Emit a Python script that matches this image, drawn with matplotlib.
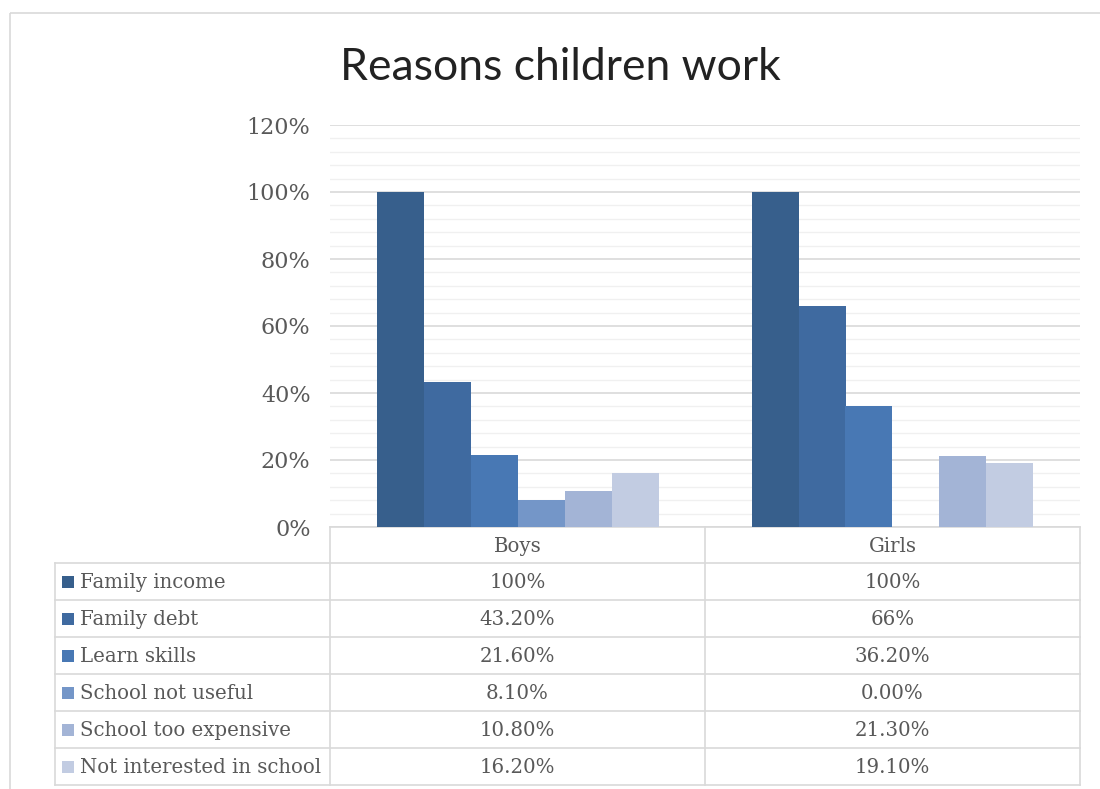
import matplotlib
matplotlib.use("Agg")
import numpy as np
import matplotlib.pyplot as plt
from matplotlib.ticker import MultipleLocator, FuncFormatter
from matplotlib.patches import Rectangle

# Chart data
categories = ["Boys", "Girls"]
reasons = ["Family income", "Family debt", "Learn skills",
           "School not useful", "School too expensive", "Not interested in school"]
boys = ["100%", "43.20%", "21.60%", "8.10%", "10.80%", "16.20%"]
girls = ["100%", "66%", "36.20%", "0.00%", "21.30%", "19.10%"]
colors = ["#375F8C", "#3F6AA0", "#4878B4", "#7496C8", "#A3B4D6", "#C2CCE2"]


def pct(s):
    return float(s.rstrip("%"))


W, H = 1100, 789
fig = plt.figure(figsize=(W / 100, H / 100), dpi=100)
fig.patch.set_facecolor("white")

serif = ["DejaVu Serif"]
txt_color = "#595959"
grid_major = "#D9D9D9"
grid_minor = "#F0F0F0"
fs = 14.2

# Plot area (pixel layout)
ax_l, ax_r, ax_t, ax_b = 330, 1080, 125, 527
ax = fig.add_axes([ax_l / W, 1 - ax_b / H, (ax_r - ax_l) / W, (ax_b - ax_t) / H])

n = len(reasons)
bw = 47 / 375
xc = np.arange(len(categories))
for i, r in enumerate(reasons):
    vals = [pct(boys[i]), pct(girls[i])]
    ax.bar(xc + (i - (n - 1) / 2) * bw, vals, width=bw, color=colors[i],
           zorder=3, linewidth=0)

ax.set_xlim(-0.5, len(categories) - 0.5)
ax.set_ylim(0, 120)
ax.yaxis.set_major_locator(MultipleLocator(20))
ax.yaxis.set_minor_locator(MultipleLocator(4))
ax.yaxis.set_major_formatter(FuncFormatter(lambda v, p: f"{v:.0f}%"))
ax.grid(which="major", axis="y", color=grid_major, linewidth=1.2, zorder=0)
ax.grid(which="minor", axis="y", color=grid_minor, linewidth=1.0, zorder=0)
ax.set_xticks([])
ax.tick_params(axis="y", which="both", length=0, pad=14, labelcolor=txt_color)
for lbl in ax.get_yticklabels():
    lbl.set_fontfamily(serif)
    lbl.set_fontsize(16)
for s in ax.spines.values():
    s.set_visible(False)
ax.set_facecolor("none")

# Overlay in pixel coordinates for the data table and frame
ov = fig.add_axes([0, 0, 1, 1], zorder=-1)
ov.set_xlim(0, W)
ov.set_ylim(H, 0)
ov.axis("off")

# outer chart frame
ov.add_patch(Rectangle((10, 13), W, H, fill=False, edgecolor="#D9D9D9", linewidth=1.2))

# table grid
tab_l = 55
col_edges = [ax_l + k * (ax_r - ax_l) / len(categories) for k in range(len(categories) + 1)]
row_h = 37
head_top, head_bot = ax_b, 563
row_tops = [head_bot + k * row_h for k in range(n + 1)]
lc = "#D9D9D9"
ov.plot([ax_l, ax_r], [head_top, head_top], color=lc, lw=1.2)
for y in row_tops:
    ov.plot([tab_l, ax_r], [y, y], color=lc, lw=1.2)
ov.plot([tab_l, tab_l], [head_bot, row_tops[-1]], color=lc, lw=1.2)
for x in col_edges:
    ov.plot([x, x], [head_top, row_tops[-1]], color=lc, lw=1.2)

for k, c in enumerate(categories):
    cx = (col_edges[k] + col_edges[k + 1]) / 2
    ov.text(cx, (head_top + head_bot) / 2 + 1, c, ha="center", va="center",
            fontsize=fs, family=serif, color=txt_color)

for i, r in enumerate(reasons):
    cy = (row_tops[i] + row_tops[i + 1]) / 2
    ov.add_patch(Rectangle((62, cy - 6), 12, 12, color=colors[i], linewidth=0))
    ov.text(80, cy + 1, r, ha="left", va="center", fontsize=fs, family=serif,
            color=txt_color)
    for k, col in enumerate([boys, girls]):
        cx = (col_edges[k] + col_edges[k + 1]) / 2
        ov.text(cx, cy + 1, col[i], ha="center", va="center", fontsize=fs,
                family=serif, color=txt_color)

fig.text(560 / W, 1 - 80 / H, "Reasons children work", ha="center", va="baseline",
         fontsize=32, family=["Lato", "DejaVu Sans"], fontweight="normal",
         color="#222222")

fig.savefig("out.png", dpi=100, facecolor="white")
